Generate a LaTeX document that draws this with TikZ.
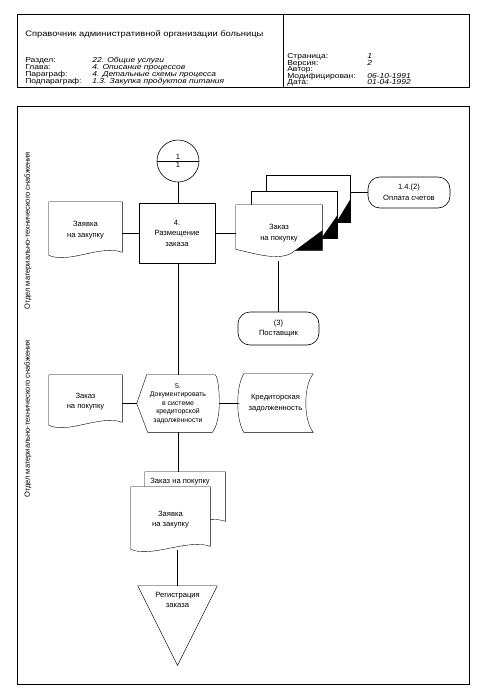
\documentclass[tikz,border=0pt]{standalone}
\usepackage{fontspec}
\setmainfont{Liberation Sans}
\newfontfamily\hdrfont[FakeStretch=1.18]{Liberation Sans}
\usetikzlibrary{shapes.multipart,backgrounds,calc}
\newcommand\docout[2][]{\draw[#1] (#2.north west) -- (#2.north east) -- ([yshift=6pt]#2.south east) .. controls ([xshift=-22pt,yshift=14pt]#2.south east) and ([xshift=20pt,yshift=-6pt]#2.south west) .. ([yshift=3pt]#2.south west) -- cycle;}
\begin{document}
\begin{tikzpicture}[x=1pt,y=-1pt,line width=0.6pt,
  lbl/.style={font=\fontsize{7.6}{10.5}\selectfont,align=center,inner sep=0pt},
  small/.style={font=\fontsize{6.9}{8.5}\selectfont,align=center,inner sep=0pt},
  hdr/.style={font=\hdrfont\fontsize{7.2}{8}\selectfont,anchor=base west,inner sep=0pt},
  hdri/.style={font=\hdrfont\fontsize{7.2}{8}\selectfont\itshape,anchor=base west,inner sep=0pt},
  lane/.style={font=\fontsize{7.5}{9}\selectfont,rotate=90,inner sep=0pt},
  frame/.style={line width=0.8pt},
  outl/.style={fill=white},
  term/.style={lbl,draw,rounded corners=12pt}]
\useasboundingbox (0,0) rectangle (482,694);
% header
\draw[frame] (17,14) rectangle (469,87);
\draw[frame] (283,14) -- (283,87);
\node[hdr,font=\hdrfont\fontsize{7.9}{9}\selectfont] (title) at (25,36) {Справочник административной организации больницы};
\node[hdr] (l1) at (25,62) {Раздел:};
\node[hdr] (l2) at (25,69) {Глава:};
\node[hdr] (l3) at (25,76) {Параграф:};
\node[hdr] (l4) at (25,83) {Подпараграф:};
\node[hdri] (v1) at (92,62) {22. Общие услуги};
\node[hdri] (v2) at (92,69) {4. Описание процессов};
\node[hdri] (v3) at (92,76) {4. Детальные схемы процесса};
\node[hdri] (v4) at (92,83) {1.3. Закупка продуктов питания};
\node[hdr] (r1) at (287,58.5) {Страница:};
\node[hdr] (r2) at (287,65) {Версия:};
\node[hdr] (r3) at (287,71.5) {Автор:};
\node[hdr] (r4) at (287,78) {Модифицирован:};
\node[hdr] (r5) at (287,84.5) {Дата:};
\node[hdri] (w1) at (367,58.5) {1};
\node[hdri] (w2) at (367,65) {2};
\node[hdri] (w4) at (367,78) {06-10-1991};
\node[hdri] (w5) at (367,84.5) {01-04-1992};
% main frame
\draw[frame] (17,106) rectangle (469,684);
\node[lane] (lane1) at (28,231) {Отдел материально-технического снабжения};
\node[lane] (lane2) at (28,419) {Отдел материально-технического снабжения};
% connector circle
\node[circle split,draw,minimum size=42pt,inner sep=1pt,font=\fontsize{7.6}{9}\selectfont] (c1) at (178,161) {1\nodepart{lower}1};
% box 4
\node[lbl,draw,minimum width=76pt,minimum height=60pt] (b4) at (177,233) {4.\\Размещение\\заказа};
% document Заявка
\node[lbl,minimum width=73pt,minimum height=56pt] (doc1) at (85.5,230) {Заявка\\на закупку};
% multi document Заказ на покупку
\node[minimum width=84pt,minimum height=47pt,inner sep=0pt] (mdA) at (308,198.5) {};
\node[minimum width=86pt,minimum height=47pt,inner sep=0pt] (mdB) at (294,214.5) {};
\node[lbl,minimum width=86pt,minimum height=56pt] (front) at (279,233) {Заказ\\на покупку};
% terminators
\node[term,minimum width=82pt,minimum height=31pt] (t1) at (409,192.5) {1.4.(2)\\Оплата счетов};
\node[term,minimum width=81pt,minimum height=33pt] (t2) at (278.5,328.5) {(3)\\Поставщик};
% row 2
\node[lbl,minimum width=73pt,minimum height=53pt] (docL) at (85.5,401.5) {Заказ\\на покупку};
\node[small,minimum width=82pt,minimum height=57pt] (hex) at (178,403.5) {5.\\Документировать\\в системе\\кредиторской\\задолженности};
\node[lbl,minimum width=75pt,minimum height=58pt] (kz) at (275.5,403) {Кредиторская\\задолженность};
% multi document 2
\node[minimum width=80pt,minimum height=55pt,inner sep=0pt] (mdC) at (185,499.5) {};
\node[lbl] (mdCt) at (180,482) {Заказ на покупку};
\node[lbl,minimum width=79pt,minimum height=65pt] (mdD) at (170.5,519.5) {Заявка\\на закупку};
% triangle
\node[minimum width=79pt,minimum height=79pt,inner sep=0pt] (tri) at (177.5,625.5) {};
\node[lbl] (trit) at (177.5,600) {Регистрация\\заказа};
\begin{scope}[on background layer]
  \docout[outl]{doc1}
  \draw[outl] (mdA.north west) rectangle (mdA.south east);
  \draw[outl] (mdB.north west) rectangle (mdB.south east);
  \draw[outl] (front.north west) -- (front.north east) -- ([yshift=11pt]front.south east) -- ([xshift=-27pt,yshift=11pt]front.south east) .. controls ([xshift=-40pt,yshift=-1pt]front.south east) and ([xshift=22pt,yshift=7pt]front.south west) .. ([yshift=12pt]front.south west) -- cycle;
  \fill ([yshift=23pt]mdA.south east) -- (mdA.south east) -- ([xshift=-1pt]mdB.east |- mdA.south) -- cycle;
  \fill ([yshift=23pt]mdB.south east) -- (mdB.south east) -- ([xshift=-1pt]front.east |- mdB.south) -- cycle;
  \fill ([yshift=31pt]front.south east) -- ([yshift=11pt]front.south east) -- ([xshift=-27pt,yshift=11pt]front.south east) -- cycle;
  \docout[outl]{docL}
  \draw[outl] (hex.west) -- ([xshift=10pt]hex.north west) -- ([xshift=-4pt]hex.north east) .. controls ([xshift=-1pt,yshift=-4pt]hex.north east) and ([yshift=12pt]hex.east) .. (hex.east) .. controls ([yshift=-12pt]hex.east) and ([xshift=-3pt,yshift=4pt]hex.south east) .. ([xshift=-7pt]hex.south east) -- ([xshift=11pt]hex.south west) -- cycle;
  \draw[outl] ([xshift=6pt]kz.north west) -- (kz.north east) .. controls ([xshift=-10pt,yshift=-12pt]kz.north east) and ([xshift=-10pt,yshift=12pt]kz.south east) .. (kz.south east) -- ([xshift=6pt]kz.south west) .. controls ([xshift=-2pt,yshift=14pt]kz.south west) and ([xshift=-2pt,yshift=-14pt]kz.north west) .. cycle;
  \docout[outl]{mdC}
  \docout[outl]{mdD}
  \draw[outl] (tri.north west) -- (tri.north east) -- (tri.south) -- cycle;
\end{scope}
% connectors
\draw (c1.south) -- (c1.south |- b4.north);
\draw (doc1.east |- b4.west) -- (b4.west);
\draw (b4.east) -- (b4.east -| front.west);
\draw (mdA.east |- t1.west) -- (t1.west);
\draw (t2.north |- front.south) -- (t2.north);
\draw (c1.south |- b4.south) -- (c1.south |- hex.north);
\draw (docL.east |- hex.west) -- (hex.west);
\draw (hex.east) -- ([xshift=1pt]hex.east -| kz.west);
\draw (hex.south) -- (hex.south |- mdC.north);
\draw ([yshift=2pt]tri.north |- mdD.south) -- (tri.north);
\end{tikzpicture}
\end{document}
